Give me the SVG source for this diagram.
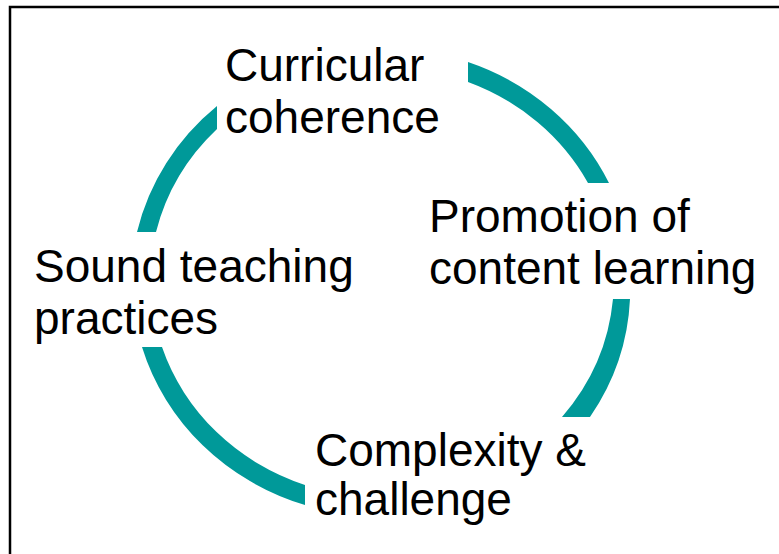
<svg xmlns="http://www.w3.org/2000/svg" width="779" height="554" viewBox="0 0 779 554">
<style>
.lbl{font-family:"Liberation Sans",Arial,sans-serif;font-size:46px;fill:#000}
.arc{fill:#009999;stroke:none}
</style>
<rect x="0" y="0" width="779" height="554" fill="#fff"/>
<rect x="10" y="7" width="800" height="600" fill="none" stroke="#000" stroke-width="2.5"/>
<g id="connectors">
<path class="arc" d="M137,232 A248,235 0 0 1 217,106 L217,129 A230,217 0 0 0 156,232 Z"/>
<path class="arc" d="M468,62 A248,235 0 0 1 609,183 L588,183 A230,217 0 0 0 468,82 Z"/>
<path class="arc" d="M630,299 A248,235 0 0 1 590,417 L562,417 A230,217 0 0 0 613,299 Z"/>
<path class="arc" d="M142,347 A248,235 0 0 0 305,505 L305,485 A230,217 0 0 1 162,347 Z"/>
</g>
<g id="curricular"><text class="lbl" x="225" y="81">Curricular</text><text class="lbl" x="225" y="133">coherence</text></g>
<g id="promotion"><text class="lbl" x="429" y="232">Promotion of</text><text class="lbl" x="429" y="284">content learning</text></g>
<g id="sound"><text class="lbl" x="34" y="282">Sound teaching</text><text class="lbl" x="34" y="334">practices</text></g>
<g id="complexity"><text class="lbl" x="315" y="466">Complexity &amp;</text><text class="lbl" x="315" y="515">challenge</text></g>
</svg>
